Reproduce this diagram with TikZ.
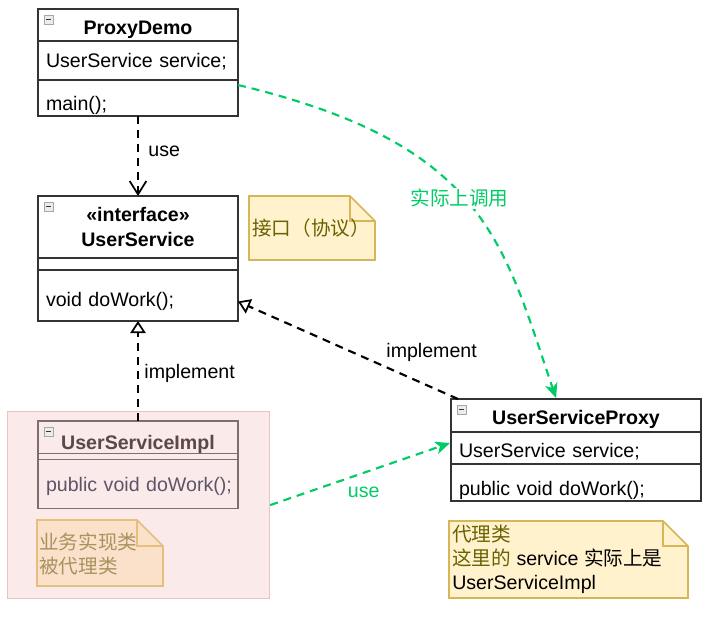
\documentclass[tikz,border=0pt]{standalone}
\usepackage{fontspec}
\setmainfont{Liberation Sans}
\newfontfamily\cjk{Noto Sans CJK SC}
\usetikzlibrary{arrows.meta,positioning,calc}

\definecolor{callgreen}{HTML}{00CC66}
\definecolor{notefill}{HTML}{FFF2CC}
\definecolor{noteline}{HTML}{D6B656}
\definecolor{notetext}{HTML}{6B6100}
\definecolor{implfill}{HTML}{FBEAEA}
\definecolor{implline}{HTML}{EBC3C1}
\definecolor{implbox}{HTML}{7E6E6E}
\definecolor{impltext}{HTML}{5B4848}
\definecolor{implmeth}{HTML}{5E5468}
\definecolor{implnotefill}{HTML}{FBE0CA}
\definecolor{implnoteline}{HTML}{E4BF7E}
\definecolor{implnotetext}{HTML}{A8925E}

\begin{document}
\begin{tikzpicture}[x=0.75pt,y=-0.75pt,
  font=\fontsize{14.7pt}{18pt}\selectfont,
  node distance=0pt,
  umlbox/.style={draw=black!80, fill=white, line width=0.9pt, inner sep=0pt,
    outer sep=0pt, minimum width=150pt},
  umltitle/.style={umlbox, font=\fontsize{14.7pt}{18.5pt}\selectfont\bfseries, align=center},
  umlpart/.style={umlbox, inner xsep=6pt, text width=138pt, align=left},
  wide/.style={minimum width=187.5pt},
  widepart/.style={text width=175.5pt},
  txt/.style={text height=#1, text depth=3.5pt},
  faded/.style={draw=implbox, fill=none},
  note/.style={fill=notefill, draw=noteline, line width=1.3pt, line join=miter},
  notetxt/.style={anchor=west, align=left, inner sep=0pt, text=notetext},
  uses/.style={black, line width=1.6pt, dash pattern=on 6pt off 4.5pt,
    -{Straight Barb[length=10pt,width=12.5pt,line width=1.3pt]}},
  realize/.style={black, line width=1.6pt, dash pattern=on 6pt off 4.5pt,
    -{Triangle[open,length=9pt,width=11.5pt,line width=1.3pt]}},
  call/.style={callgreen, line width=1.6pt, dash pattern=on 6pt off 4.5pt,
    -{Stealth[length=11pt,width=9.5pt,inset=3pt]}},
  lbl/.style={inner sep=1pt}
]
\useasboundingbox (0,0) rectangle (724,629);

% ProxyDemo
\node[umltitle, txt=18.4pt, minimum height=24pt, anchor=north west] (demo) at (38,9) {ProxyDemo};
\node[umlpart, txt=14.7pt, minimum height=29.25pt, below=of demo] (demoattr) {UserService service;};
\node[umlpart, txt=22.4pt, minimum height=27pt, below=of demoattr] (demometh) {main();};

% interface UserService
\node[umltitle, minimum height=46.5pt, anchor=north west] (ushead) at (38,196) {«interface»\\UserService};
\node[umlbox, minimum height=9pt, below=of ushead] (usattr) {};
\node[umlpart, txt=20.6pt, minimum height=38.25pt, below=of usattr] (usmeth) {void doWork();};

% note: interface
\filldraw[note] (249,196) -- (350,196) -- (375,221) -- (375,260) -- (249,260) -- cycle;
\draw[note, fill=none] (350,196) -- (350,221) -- (375,221);
\node[notetxt] (ifnote) at (252,228) {\cjk 接口（协议）};

% UserServiceImpl group
\node[draw=implline, fill=implfill, line width=0.9pt, inner sep=0pt, minimum width=196.5pt,
  minimum height=140.25pt, anchor=north west] (implbg) at (7,411) {};
\node[umltitle, faded, txt=21pt, text=impltext, minimum height=24pt, anchor=north west] (implhead) at (38,421) {UserServiceImpl};
\node[umlbox, faded, minimum height=4.5pt, below=of implhead] (implattr) {};
\node[umlpart, faded, txt=14.7pt, text=implmeth, minimum height=36.75pt, below=of implattr] (implmeth) {\mbox{public void doWork();}};

% note: impl
\filldraw[note, fill=implnotefill, draw=implnoteline] (37,520) -- (137,520) -- (163,546) -- (163,586) -- (37,586) -- cycle;
\draw[note, fill=none, draw=implnoteline] (137,520) -- (137,546) -- (163,546);
\node[notetxt, text=implnotetext, font=\fontsize{14.7pt}{18pt}\cjk] (implnote) at (39,554) {业务实现类\\被代理类};

% UserServiceProxy
\node[umltitle, wide, txt=17.7pt, minimum height=24.75pt, anchor=north west] (prhead) at (451,399) {UserServiceProxy};
\node[umlpart, wide, widepart, txt=18.4pt, minimum height=24pt, below=of prhead] (prattr) {UserService service;};
\node[umlpart, wide, widepart, txt=23.6pt, minimum height=27.75pt, below=of prattr] (prmeth) {public void doWork();};

% note: proxy
\filldraw[note] (449,521) -- (663,521) -- (688,546) -- (688,598) -- (449,598) -- cycle;
\draw[note, fill=none] (663,521) -- (663,546) -- (688,546);
\node[notetxt] (prnote) at (452,559) {{\cjk 代理类}\\{\cjk 这里的} \textcolor{black}{service {\cjk 实际上是}}\\\textcolor{black}{UserServiceImpl}};

% fold icons
\foreach \h in {demo,ushead,implhead,prhead} {
  \draw[gray!70, fill=gray!15, line width=0.6pt] ($(\h.north west)+(6,6)$) rectangle ++(9,9);
  \draw[gray!40!black, line width=0.9pt] ($(\h.north west)+(8,10.5)$) -- ++(5,0);
}

% relations
\draw[uses] (demometh.south) -- (ushead.north)
  node[lbl, pos=0.44, right=6pt] (lbluse) {use};
\draw[realize] (implhead.north) -- (usmeth.south)
  node[lbl, pos=0.48, right=3pt] (lblimpl) {implement};
\draw[realize] ($(prhead.north west)+(7,0)$) -- ($(usmeth.east)+(0,6)$)
  node[lbl, pos=0.12, yshift=26pt] (lblprimpl) {implement};
\draw[call] ($(demometh.north east)+(0,5)$) .. controls (486,144) and (503,242) .. ($(prhead.north)+(-20,-1)$)
  node[lbl, pos=0.5, fill=white, text=callgreen, xshift=-8pt, yshift=5pt] (lblcall) {\cjk 实际上调用};
\draw[call] (implbg.east) -- ($(prattr.west)+(-1,-5)$)
  node[lbl, pos=0.52, yshift=-15pt, text=callgreen] (lbluse2) {use};
\end{tikzpicture}
\end{document}
